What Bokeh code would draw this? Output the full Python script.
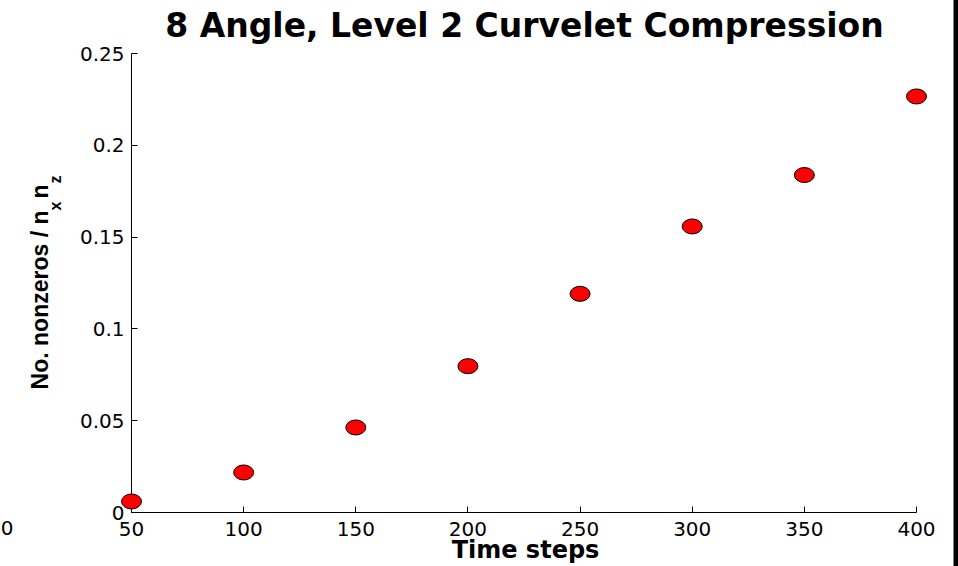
import math
from bokeh.plotting import figure
from bokeh.models import Range1d, FixedTicker
from bokeh.core.properties import value
from bokeh.embed import file_html
from bokeh.resources import INLINE

# data
time_steps = [50, 100, 150, 200, 250, 300, 350, 400]
ratio = [0.006, 0.0218, 0.0463, 0.0797, 0.1191, 0.1558, 0.1838, 0.2266]
x_ticks = [50, 100, 150, 200, 250, 300, 350, 400]
y_ticks = [0, 0.05, 0.1, 0.15, 0.2, 0.25]
y_tick_labels = ["0", "0.05", "0.1", "0.15", "0.2", "0.25"]
title_text = "8 Angle, Level 2 Curvelet Compression"
x_label = "Time steps"

W, H = 958, 566
L, R, T, B = 131, 42, 53, 54
x0, x1 = x_ticks[0], x_ticks[-1]
y0, y1 = y_ticks[0], y_ticks[-1]

p = figure(width=W, height=H, output_backend="svg", toolbar_location=None,
           x_range=Range1d(x0, x1), y_range=Range1d(y0, y1),
           min_border_left=L, min_border_right=R, min_border_top=T, min_border_bottom=B)
p.outline_line_color = None
p.grid.visible = False
p.background_fill_color = "white"
p.border_fill_color = "white"

for ax in (p.xaxis[0], p.yaxis[0]):
    ax.major_tick_in = 6
    ax.major_tick_out = 0
    ax.minor_tick_line_color = None
    ax.axis_line_color = "black"
    ax.major_tick_line_color = "black"
    ax.major_label_text_font = "DejaVu Sans"
    ax.major_label_text_font_size = "20px"
    ax.major_label_text_color = "black"
p.xaxis[0].major_label_standoff = 9
p.yaxis[0].major_label_standoff = 7

p.xaxis[0].ticker = FixedTicker(ticks=x_ticks)
p.yaxis[0].ticker = FixedTicker(ticks=y_ticks)
p.yaxis[0].major_label_overrides = {v: s for v, s in zip(y_ticks, y_tick_labels)}

r = p.ellipse(x=time_steps, y=ratio, width=20, height=15, width_units="screen",
              height_units="screen", fill_color="#ff0000", line_color="black", line_width=1)
r.level = "overlay"


def txt(xa, ya, s, dx, dy, size, bold=True, font="DejaVu Sans", align="center", angle=0.0):
    g = p.text(x=[xa], y=[ya], text=[s], x_offset=dx, y_offset=dy, angle=angle,
               text_font=value(font), text_font_style="bold" if bold else "normal",
               text_font_size=size, text_align=align, text_baseline="middle",
               text_color="black")
    g.level = "overlay"
    return g


xm = (x0 + x1) / 2
# title and x label
txt(xm, y1, title_text, 0.5, -28, "33px")
txt(xm, y0, x_label, 1.5, 37.5, "24px")
# y label: "No. nonzeros / n_x n_z" (rotated, pieces)
ang = math.pi / 2
yf = "Liberation Sans"
txt(x0, y0, "No. nonzeros / n", -92, -302, "23px", font=yf, align="right", angle=ang)
txt(x0, y0, "x", -76.5, -302, "16px", font=yf, align="left", angle=ang)
txt(x0, y0, "n", -92, -314, "23px", font=yf, align="left", angle=ang)
txt(x0, y0, "z", -76.5, -329, "16px", font=yf, align="left", angle=ang)
# stray "0" from the neighbouring panel at the left edge
txt(x0, y0, "0", -118, 15.5, "20px", bold=False, align="right")

# black strip at the right edge of the picture
px_x = (x1 - x0) / (W - L - R)
strip = p.rect(x=[x1 + 44 * px_x], y=[(y0 + y1) / 2], width=14, height=900,
               width_units="screen", height_units="screen", fill_color="black", line_color=None)
strip.level = "overlay"

open("out.html", "w").write(file_html(p, INLINE))
